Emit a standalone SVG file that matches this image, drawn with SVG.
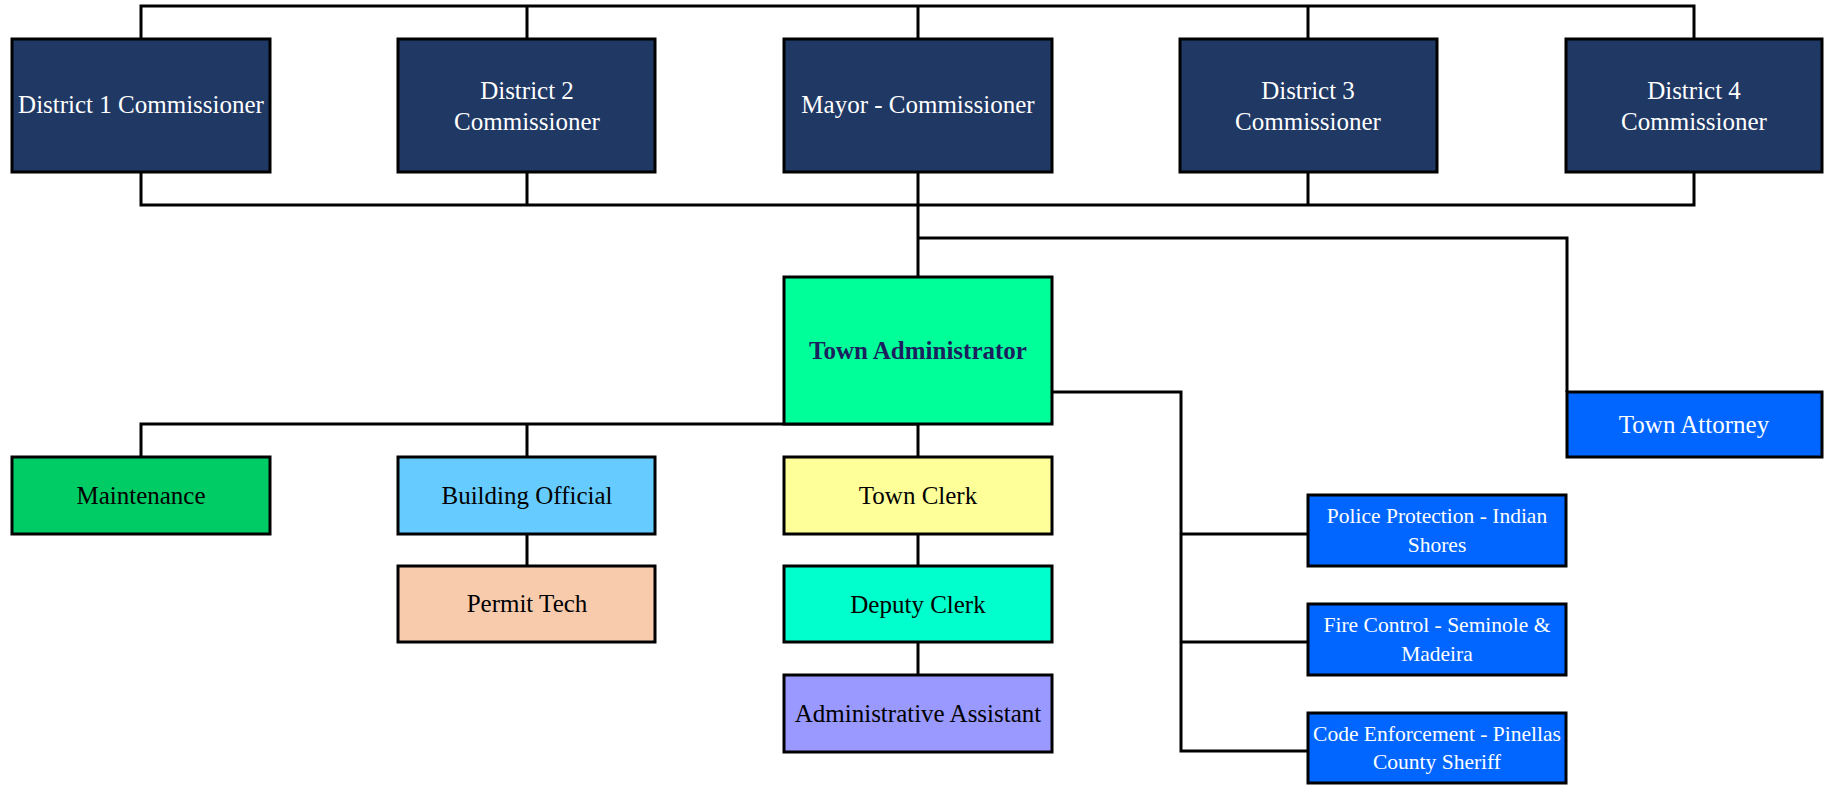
<svg xmlns="http://www.w3.org/2000/svg" width="1824" height="785" viewBox="0 0 1824 785">
<style>
.box{stroke:#000;stroke-width:3}
.t{font-family:"Liberation Serif","Times New Roman",serif;font-size:25px;text-anchor:middle}
.s{font-size:21.5px}
.w{fill:#fff}
.k{fill:#000}
.navy{fill:#203864}
.blue{fill:#0066FF}
#connectors path{fill:none;stroke:#000;stroke-width:3}
</style>
<rect width="1824" height="785" fill="#fff"/>
<g id="connectors">
<path d="M141,39V6H1694V39M527,6V39M918,6V39M1308,6V39"/>
<path d="M141,172V205H1694V172M527,172V205M918,172V277M1308,172V205"/>
<path d="M918,238H1567V392"/>
<path d="M141,457V424H918V457M527,424V457"/>
<path d="M527,534V566M918,534V566M918,642V675"/>
<path d="M1052,392H1181V751H1308M1181,534H1308M1181,642H1308"/>
</g>
<g id="district1"><rect class="box navy" x="12" y="39" width="258" height="133"/><text class="t w" x="141" y="113">District 1 Commissioner</text></g>
<g id="district2"><rect class="box navy" x="398" y="39" width="257" height="133"/><text class="t w" x="527" y="99">District 2</text><text class="t w" x="527" y="130">Commissioner</text></g>
<g id="mayor"><rect class="box navy" x="784" y="39" width="268" height="133"/><text class="t w" x="918" y="113">Mayor - Commissioner</text></g>
<g id="district3"><rect class="box navy" x="1180" y="39" width="257" height="133"/><text class="t w" x="1308" y="99">District 3</text><text class="t w" x="1308" y="130">Commissioner</text></g>
<g id="district4"><rect class="box navy" x="1566" y="39" width="256" height="133"/><text class="t w" x="1694" y="99">District 4</text><text class="t w" x="1694" y="130">Commissioner</text></g>
<g id="town-admin"><rect class="box" fill="#00FF99" x="784" y="277" width="268" height="147"/><text class="t" x="918" y="359" font-weight="bold" fill="#1B1F5E">Town Administrator</text></g>
<g id="town-attorney"><rect class="box blue" x="1567" y="392" width="255" height="65"/><text class="t w" x="1694" y="433">Town Attorney</text></g>
<g id="maintenance"><rect class="box" fill="#00CC66" x="12" y="457" width="258" height="77"/><text class="t k" x="141" y="504">Maintenance</text></g>
<g id="building-official"><rect class="box" fill="#66CCFF" x="398" y="457" width="257" height="77"/><text class="t k" x="527" y="504">Building Official</text></g>
<g id="permit-tech"><rect class="box" fill="#F8CBAD" x="398" y="566" width="257" height="76"/><text class="t k" x="527" y="612">Permit Tech</text></g>
<g id="town-clerk"><rect class="box" fill="#FFFF99" x="784" y="457" width="268" height="77"/><text class="t k" x="918" y="504">Town Clerk</text></g>
<g id="deputy-clerk"><rect class="box" fill="#00FFCC" x="784" y="566" width="268" height="76"/><text class="t k" x="918" y="613">Deputy Clerk</text></g>
<g id="admin-assistant"><rect class="box" fill="#9999FF" x="784" y="675" width="268" height="77"/><text class="t k" x="918" y="722">Administrative Assistant</text></g>
<g id="police"><rect class="box blue" x="1308" y="495" width="258" height="71"/><text class="t s w" x="1437" y="523">Police Protection - Indian</text><text class="t s w" x="1437" y="552">Shores</text></g>
<g id="fire"><rect class="box blue" x="1308" y="604" width="258" height="71"/><text class="t s w" x="1437" y="632">Fire Control - Seminole &amp;</text><text class="t s w" x="1437" y="661">Madeira</text></g>
<g id="code"><rect class="box blue" x="1308" y="713" width="258" height="70"/><text class="t s w" x="1437" y="741">Code Enforcement - Pinellas</text><text class="t s w" x="1437" y="769">County Sheriff</text></g>
</svg>
